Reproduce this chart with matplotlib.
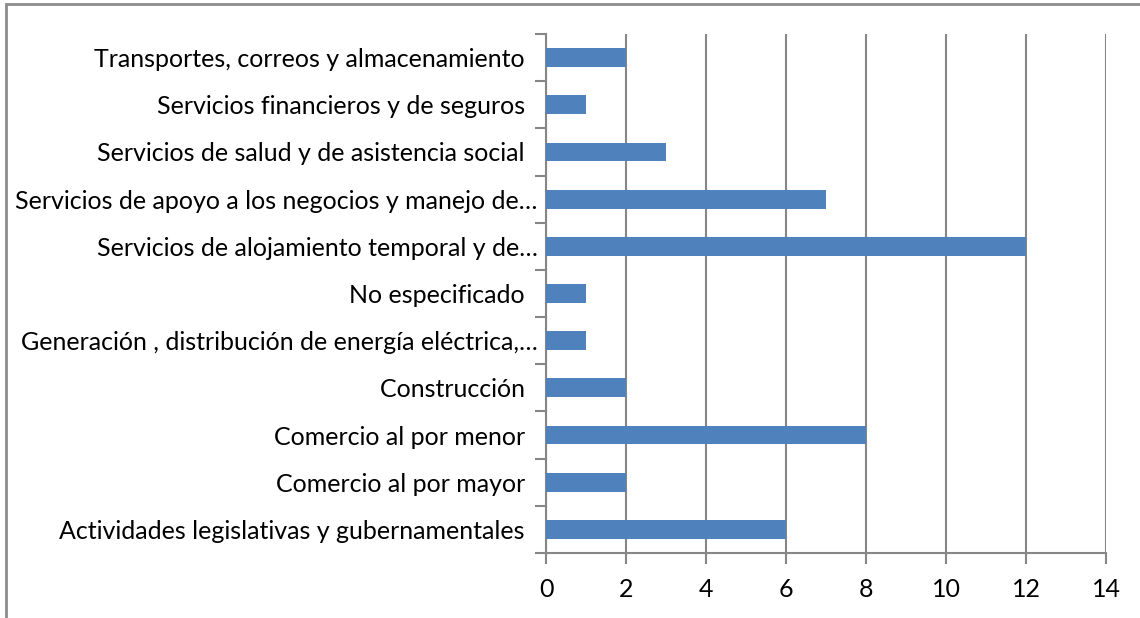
import matplotlib.pyplot as plt
from matplotlib.patches import Rectangle

plt.rcParams['font.family'] = ['Lato', 'DejaVu Sans']

# categories bottom to top, as in the chart
categories = [
    'Actividades legislativas y gubernamentales  ',
    'Comercio al por mayor  ',
    'Comercio al por menor  ',
    'Construcción  ',
    'Generación , distribución de energía eléctrica,…',
    'No especificado  ',
    'Servicios de alojamiento temporal y de…',
    'Servicios de apoyo a los negocios y manejo de…',
    'Servicios de salud y de asistencia social  ',
    'Servicios financieros y de seguros  ',
    'Transportes, correos y almacenamiento  ',
]
values = [6, 2, 8, 2, 1, 1, 12, 7, 3, 1, 2]
xticks = [0, 2, 4, 6, 8, 10, 12, 14]

W, H = 1140, 618
fig = plt.figure(figsize=(W / 100, H / 100), dpi=100)
ax = fig.add_axes([546 / W, 1 - 553 / H, (1106 - 546) / W, (553 - 34) / H])

grid_col = '#868686'
pos = list(range(len(categories)))
ax.barh(pos, values, height=0.4, color='#4F81BD', zorder=3)

ax.set_xlim(0, 14)
ax.set_ylim(-0.5, len(categories) - 0.5)
ax.set_xticks(xticks)
ax.set_xticklabels([str(t) for t in xticks], fontsize=18)
ax.xaxis.grid(True, color=grid_col, linewidth=1.5, zorder=0)

# category labels centred on bars, tick marks at category boundaries
ax.set_yticks(pos)
ax.set_yticklabels(categories, fontsize=18)
ax.tick_params(axis='y', length=0, pad=6)
ax.set_yticks([p - 0.5 for p in pos] + [len(pos) - 0.5], minor=True)
ax.tick_params(axis='y', which='minor', length=8, width=1.5, color=grid_col)
ax.tick_params(axis='x', length=8, width=1.5, color=grid_col, pad=10)

for s in ['top', 'right']:
    ax.spines[s].set_visible(False)
for s in ['left', 'bottom']:
    ax.spines[s].set_color(grid_col)
    ax.spines[s].set_linewidth(1.5)

# outer chart border (cropped at right and bottom)
fig.patches.append(Rectangle((6 / W, -0.1), 1.2, 1 - 4 / H + 0.1, transform=fig.transFigure,
                             fill=False, edgecolor='#8c8c8c', linewidth=2))

fig.savefig('out.png', dpi=100)
